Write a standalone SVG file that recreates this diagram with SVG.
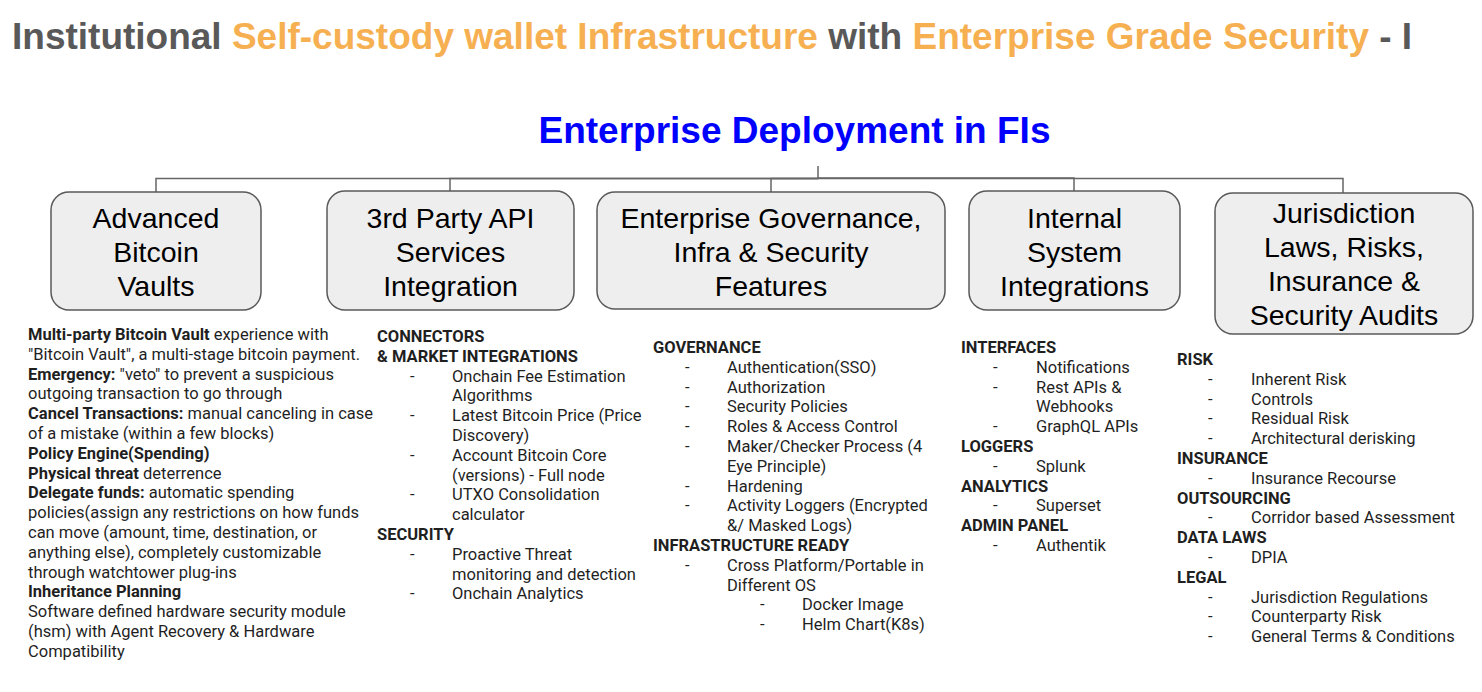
<svg xmlns="http://www.w3.org/2000/svg" width="1482" height="692" viewBox="0 0 1482 692">
<style>
.title{font-family:"Liberation Sans",Arial,sans-serif;font-weight:bold;font-size:37px}
.g{fill:#595959}
.o{fill:#f6b052}
.sub{font-family:"Liberation Sans",Arial,sans-serif;font-weight:bold;font-size:37px;fill:#0000ff}
.box{fill:#eeeeee;stroke:#595959;stroke-width:1.5}
.bt{font-family:"Liberation Sans",Arial,sans-serif;font-size:28.5px;fill:#000;text-anchor:middle}
.conn{fill:none;stroke:#666666;stroke-width:1.5}
.body{font-family:Roboto,"Liberation Sans",sans-serif;font-size:16.5px;fill:#1f1f1f}
.b{font-weight:bold}
</style>
<rect width="1482" height="692" fill="#ffffff"/>
<text class="title" x="12" y="49"><tspan class="g">Institutional </tspan><tspan class="o">Self-custody wallet Infrastructure </tspan><tspan class="g">with </tspan><tspan class="o">Enterprise Grade Security </tspan><tspan class="g">- I</tspan></text>
<text class="sub" x="794.5" y="143" text-anchor="middle">Enterprise Deployment in FIs</text>
<g id="connectors">
<path class="conn" d="M818,166 V178.5 H156 V192"/>
<path class="conn" d="M818,178.5 H450 V191"/>
<path class="conn" d="M818,178.5 H771 V192"/>
<path class="conn" d="M818,178 H1074 V191"/>
<path class="conn" d="M818,178.5 H1343 V193"/>
</g>
<g id="node-vaults">
<rect class="box" x="51" y="192" width="210" height="118" rx="18"/>
<text class="bt" x="156" y="228">Advanced</text>
<text class="bt" x="156" y="262">Bitcoin</text>
<text class="bt" x="156" y="296">Vaults</text>
</g>
<g id="node-api">
<rect class="box" x="327" y="191" width="247" height="119" rx="18"/>
<text class="bt" x="450.5" y="228">3rd Party API</text>
<text class="bt" x="450.5" y="262">Services</text>
<text class="bt" x="450.5" y="296">Integration</text>
</g>
<g id="node-governance">
<rect class="box" x="597" y="192" width="348" height="117" rx="18"/>
<text class="bt" x="771" y="228">Enterprise Governance,</text>
<text class="bt" x="771" y="262">Infra &amp; Security</text>
<text class="bt" x="771" y="296">Features</text>
</g>
<g id="node-internal">
<rect class="box" x="969" y="191" width="211" height="119" rx="18"/>
<text class="bt" x="1074.5" y="228">Internal</text>
<text class="bt" x="1074.5" y="262">System</text>
<text class="bt" x="1074.5" y="296">Integrations</text>
</g>
<g id="node-jurisdiction">
<rect class="box" x="1215" y="193" width="258" height="141" rx="18"/>
<text class="bt" x="1344" y="223">Jurisdiction</text>
<text class="bt" x="1344" y="257">Laws, Risks,</text>
<text class="bt" x="1344" y="291">Insurance &amp;</text>
<text class="bt" x="1344" y="325">Security Audits</text>
</g>
<g id="text-vaults" class="body">
<text x="28" y="340"><tspan class="b">Multi-party Bitcoin Vault</tspan> experience with</text>
<text x="28" y="359.8">"Bitcoin Vault", a multi-stage bitcoin payment.</text>
<text x="28" y="379.6"><tspan class="b">Emergency:</tspan> "veto" to prevent a suspicious</text>
<text x="28" y="399.4">outgoing transaction to go through</text>
<text x="28" y="419.2"><tspan class="b">Cancel Transactions:</tspan> manual canceling in case</text>
<text x="28" y="439">of a mistake (within a few blocks)</text>
<text x="28" y="458.8" class="b">Policy Engine(Spending)</text>
<text x="28" y="478.6"><tspan class="b">Physical threat</tspan> deterrence</text>
<text x="28" y="498.4"><tspan class="b">Delegate funds:</tspan> automatic spending</text>
<text x="28" y="518.2">policies(assign any restrictions on how funds</text>
<text x="28" y="538">can move (amount, time, destination, or</text>
<text x="28" y="557.8">anything else), completely customizable</text>
<text x="28" y="577.6">through watchtower plug-ins</text>
<text x="28" y="597.4" class="b">Inheritance Planning</text>
<text x="28" y="617.2">Software defined hardware security module</text>
<text x="28" y="637">(hsm) with Agent Recovery &amp; Hardware</text>
<text x="28" y="656.8">Compatibility</text>
</g>
<g id="text-api" class="body">
<text x="377" y="342" class="b">CONNECTORS</text>
<text x="377" y="361.8" class="b">&amp; MARKET INTEGRATIONS</text>
<text x="410" y="381.6">-</text><text x="452" y="381.6">Onchain Fee Estimation</text>
<text x="452" y="401.4">Algorithms</text>
<text x="410" y="421.2">-</text><text x="452" y="421.2">Latest Bitcoin Price (Price</text>
<text x="452" y="441">Discovery)</text>
<text x="410" y="460.8">-</text><text x="452" y="460.8">Account Bitcoin Core</text>
<text x="452" y="480.6">(versions) - Full node</text>
<text x="410" y="500.4">-</text><text x="452" y="500.4">UTXO Consolidation</text>
<text x="452" y="520.2">calculator</text>
<text x="377" y="540" class="b">SECURITY</text>
<text x="410" y="559.8">-</text><text x="452" y="559.8">Proactive Threat</text>
<text x="452" y="579.6">monitoring and detection</text>
<text x="410" y="599.4">-</text><text x="452" y="599.4">Onchain Analytics</text>
</g>
<g id="text-governance" class="body">
<text x="653" y="353" class="b">GOVERNANCE</text>
<text x="685" y="372.8">-</text><text x="727" y="372.8">Authentication(SSO)</text>
<text x="685" y="392.6">-</text><text x="727" y="392.6">Authorization</text>
<text x="685" y="412.4">-</text><text x="727" y="412.4">Security Policies</text>
<text x="685" y="432.2">-</text><text x="727" y="432.2">Roles &amp; Access Control</text>
<text x="685" y="452">-</text><text x="727" y="452">Maker/Checker Process (4</text>
<text x="727" y="471.8">Eye Principle)</text>
<text x="685" y="491.6">-</text><text x="727" y="491.6">Hardening</text>
<text x="685" y="511.4">-</text><text x="727" y="511.4">Activity Loggers (Encrypted</text>
<text x="727" y="531.2">&amp;/ Masked Logs)</text>
<text x="653" y="551" class="b">INFRASTRUCTURE READY</text>
<text x="685" y="570.8">-</text><text x="727" y="570.8">Cross Platform/Portable in</text>
<text x="727" y="590.6">Different OS</text>
<text x="760" y="610.4">-</text><text x="802" y="610.4">Docker Image</text>
<text x="760" y="630.2">-</text><text x="802" y="630.2">Helm Chart(K8s)</text>
</g>
<g id="text-internal" class="body">
<text x="961" y="353" class="b">INTERFACES</text>
<text x="993" y="372.8">-</text><text x="1036" y="372.8">Notifications</text>
<text x="993" y="392.6">-</text><text x="1036" y="392.6">Rest APIs &amp;</text>
<text x="1036" y="412.4">Webhooks</text>
<text x="993" y="432.2">-</text><text x="1036" y="432.2">GraphQL APIs</text>
<text x="961" y="452" class="b">LOGGERS</text>
<text x="993" y="471.8">-</text><text x="1036" y="471.8">Splunk</text>
<text x="961" y="491.6" class="b">ANALYTICS</text>
<text x="993" y="511.4">-</text><text x="1036" y="511.4">Superset</text>
<text x="961" y="531.2" class="b">ADMIN PANEL</text>
<text x="993" y="551">-</text><text x="1036" y="551">Authentik</text>
</g>
<g id="text-jurisdiction" class="body">
<text x="1177" y="365" class="b">RISK</text>
<text x="1208" y="384.8">-</text><text x="1251" y="384.8">Inherent Risk</text>
<text x="1208" y="404.6">-</text><text x="1251" y="404.6">Controls</text>
<text x="1208" y="424.4">-</text><text x="1251" y="424.4">Residual Risk</text>
<text x="1208" y="444.2">-</text><text x="1251" y="444.2">Architectural derisking</text>
<text x="1177" y="464" class="b">INSURANCE</text>
<text x="1208" y="483.8">-</text><text x="1251" y="483.8">Insurance Recourse</text>
<text x="1177" y="503.6" class="b">OUTSOURCING</text>
<text x="1208" y="523.4">-</text><text x="1251" y="523.4">Corridor based Assessment</text>
<text x="1177" y="543.2" class="b">DATA LAWS</text>
<text x="1208" y="563">-</text><text x="1251" y="563">DPIA</text>
<text x="1177" y="582.8" class="b">LEGAL</text>
<text x="1208" y="602.6">-</text><text x="1251" y="602.6">Jurisdiction Regulations</text>
<text x="1208" y="622.4">-</text><text x="1251" y="622.4">Counterparty Risk</text>
<text x="1208" y="642.2">-</text><text x="1251" y="642.2">General Terms &amp; Conditions</text>
</g>
</svg>
